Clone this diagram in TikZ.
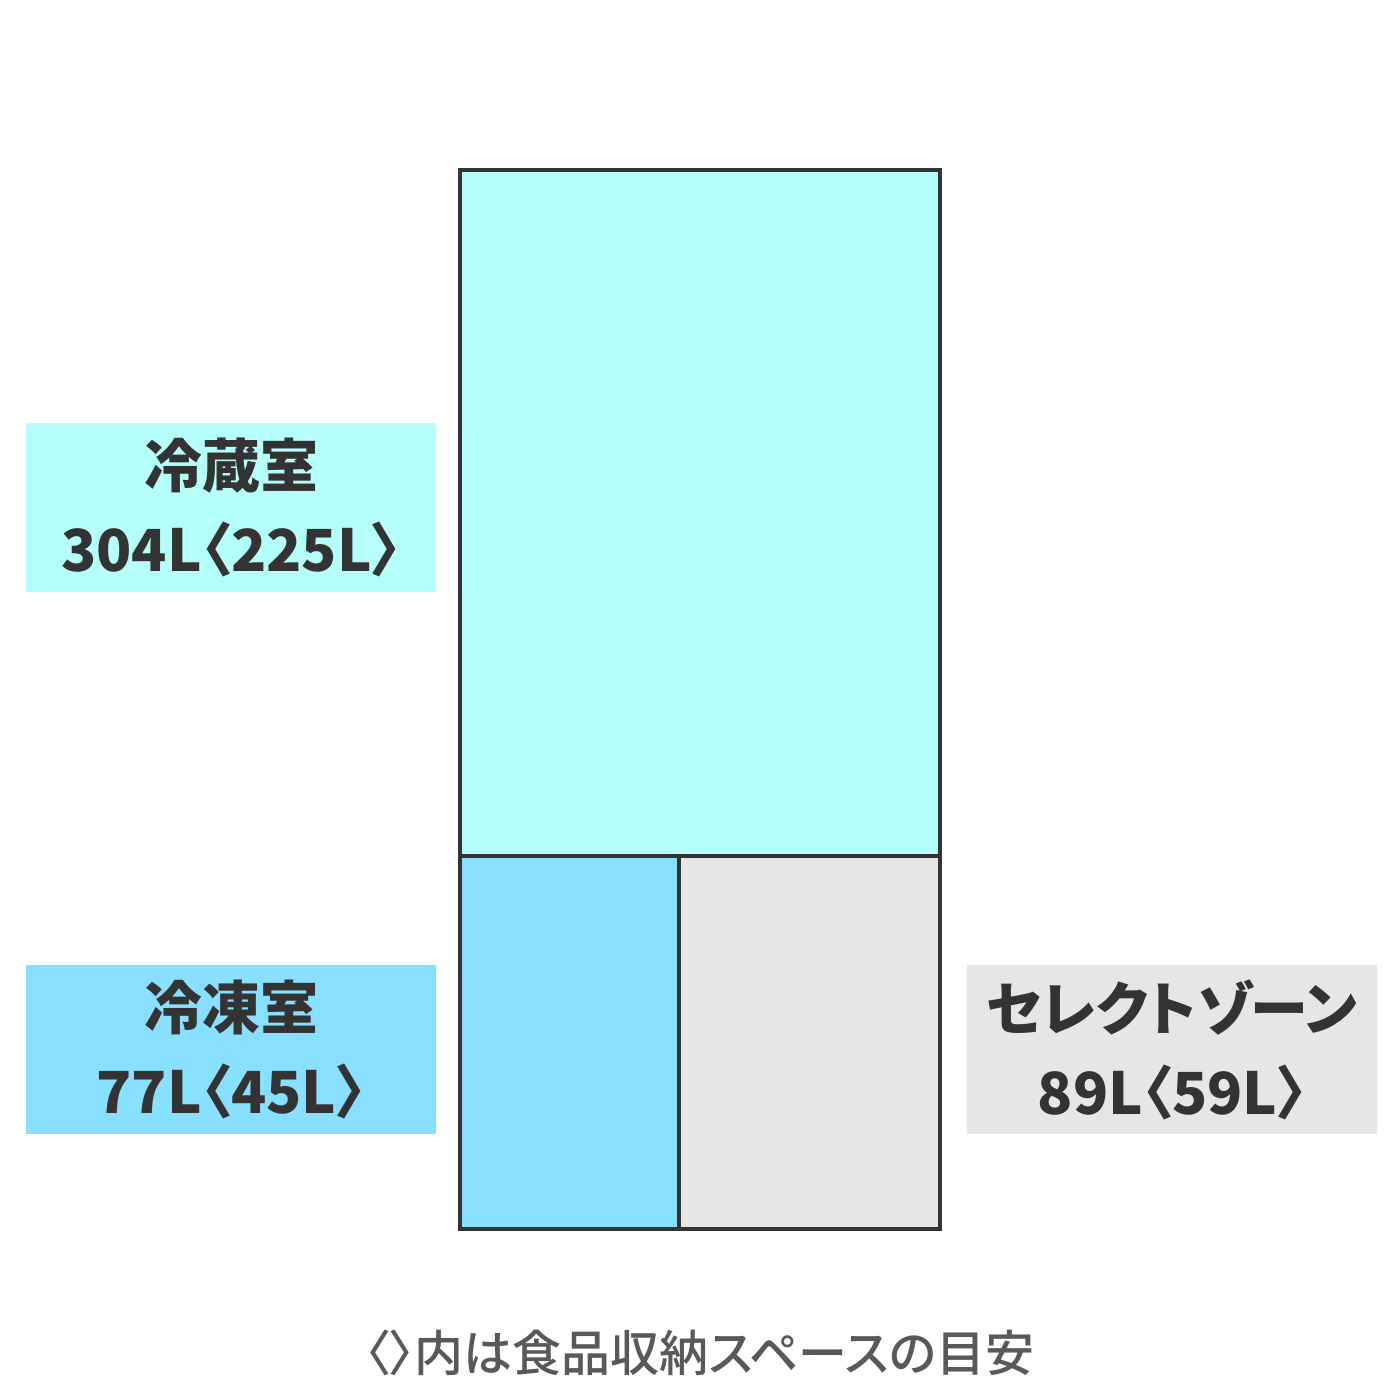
\documentclass[tikz,border=0pt]{standalone}
\usepackage{fontspec}
\setmainfont{Noto Sans CJK JP}[RawFeature=+palt]
\newfontfamily\notefont{Noto Sans CJK JP Medium}[RawFeature=+palt]
\usepackage{tikz}
\definecolor{ink}{HTML}{333333}
\definecolor{note}{HTML}{595959}
\definecolor{cold}{HTML}{B5FFFA}
\definecolor{frozen}{HTML}{88DFFF}
\definecolor{select}{HTML}{E6E6E6}

\begin{document}
\begin{tikzpicture}[x=1pt, y=-1pt,
  room/.style={draw=ink, line width=3.5pt, inner sep=0pt, outer sep=0pt, anchor=north west},
  tag/.style={inner sep=0pt, outer sep=0pt, anchor=north west, minimum width=410pt, minimum height=169pt,
    text=ink, align=center, font=\fontsize{58}{84}\selectfont\bfseries}]

  \useasboundingbox (0,0) rectangle (1400,1400);

  % fridge body
  \node[room, fill=cold, minimum width=480pt, minimum height=686pt] (reizo) at (460,170) {};
  \node[room, fill=frozen, minimum width=219pt, minimum height=373pt] (reito) at (460,856) {};
  \node[room, fill=select, minimum width=261pt, minimum height=373pt] (zone) at (679,856) {};

  % labels
  \node[tag, fill=cold] (reizotag) at (26,423) {冷蔵室\\304L〈225L〉};
  \node[tag, fill=frozen] (reitotag) at (26,965) {冷凍室\\77L〈45L〉};
  \node[tag, fill=select] (zonetag) at (967,965) {セレクトゾーン\\89L〈59L〉};

  \node[text=note, font=\notefont\fontsize{49}{52}\selectfont] (memo) at (700,1353) {〈〉内は食品収納スペースの目安};

\end{tikzpicture}
\end{document}
